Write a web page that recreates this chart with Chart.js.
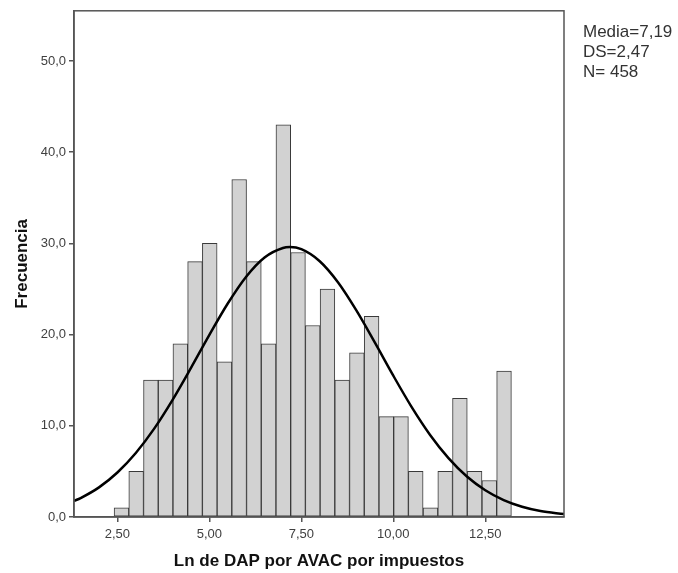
<!DOCTYPE html>
<html>
<head>
<meta charset="utf-8">
<script src="https://cdn.jsdelivr.net/npm/chart.js@4/dist/chart.umd.min.js"></script>
<style>
html,body{margin:0;padding:0;background:#fff;}
canvas{display:block;}
</style>
</head>
<body>
<canvas id="c" width="678" height="573"></canvas>
<script>
// Histogram bins (bin centres, width 0.4) and counts
const binCenters = [2.61, 3.01, 3.41, 3.81, 4.21, 4.61, 5.01, 5.41, 5.81, 6.21, 6.61, 7.01, 7.41, 7.81, 8.21, 8.61, 9.01, 9.41, 9.81, 10.21, 10.61, 11.01, 11.41, 11.81, 12.21, 12.61, 13.01];
const counts = [1, 5, 15, 15, 19, 28, 30, 17, 37, 28, 19, 43, 29, 21, 25, 15, 18, 22, 11, 11, 5, 1, 5, 13, 5, 4, 16];

// Normal curve points
const curveX = [1.32, 1.5, 2.0, 2.5, 3.0, 3.5, 4.0, 4.5, 5.0, 5.5, 6.0, 6.5, 7.0, 7.19, 7.5, 8.0, 8.5, 9.0, 9.5, 10.0, 10.5, 11.0, 11.5, 12.0, 12.5, 13.0, 13.5, 14.0, 14.64];
const curveY = [1.76, 2.08, 3.25, 4.88, 7.02, 9.69, 12.85, 16.35, 19.97, 23.41, 26.35, 28.46, 29.50, 29.59, 29.36, 28.04, 25.71, 22.62, 19.11, 15.49, 12.05, 9.00, 6.46, 4.44, 2.94, 1.86, 1.13, 0.66, 0.32];

// Axis ticks
const xTickValues = [2.5, 5, 7.5, 10, 12.5];
const yTickValues = [0, 10, 20, 30, 40, 50];

// Labels
const xTitle = 'Ln de DAP por AVAC por impuestos';
const yTitle = 'Frecuencia';
const statsLines = ['Media=7,19', 'DS=2,47', 'N= 458'];

const barData = binCenters.map((x, i) => ({x: x, y: counts[i]}));
const curveData = curveX.map((x, i) => ({x: x, y: curveY[i]}));

const boxPlugin = {
  id: 'box',
  afterDraw(chart) {
    const {ctx, chartArea: a} = chart;
    ctx.save();
    ctx.strokeStyle = '#555555';
    ctx.lineWidth = 1.5;
    ctx.strokeRect(a.left, a.top, a.right - a.left, a.bottom - a.top);
    ctx.fillStyle = '#333333';
    ctx.font = '17px "Liberation Sans", Arial, sans-serif';
    ctx.textBaseline = 'middle';
    ctx.textAlign = 'left';
    statsLines.forEach((t, i) => ctx.fillText(t, 583, 32 + i * 20));
    ctx.restore();
  }
};

new Chart(document.getElementById('c'), {
  type: 'bar',
  data: {
    datasets: [
      {
        type: 'line',
        data: curveData,
        borderColor: '#000000',
        borderWidth: 2.5,
        pointRadius: 0,
        tension: 0.4,
        cubicInterpolationMode: 'monotone',
        fill: false,
        order: 0
      },
      {
        type: 'bar',
        data: barData,
        backgroundColor: '#d2d2d2',
        borderColor: '#3a3a3a',
        borderWidth: 1,
        borderSkipped: false,
        barPercentage: 1.0,
        categoryPercentage: 1.0,
        order: 1
      }
    ]
  },
  options: {
    responsive: false,
    animation: false,
    layout: {padding: {top: 8, right: 114, left: 0, bottom: 0}},
    plugins: {legend: {display: false}, tooltip: {enabled: false}},
    scales: {
      x: {
        type: 'linear',
        offset: false,
        min: 1.32,
        max: 14.64,
        afterBuildTicks: (s) => { s.ticks = xTickValues.map(v => ({value: v})); },
        afterFit: (s) => { s.height = 56; },
        grid: {display: true, offset: false, drawOnChartArea: false, drawTicks: true, tickLength: 5, color: '#555555', lineWidth: 1.5},
        border: {display: true, color: '#555555', width: 1.5},
        ticks: {
          color: '#404040',
          font: {family: '"Liberation Sans", Arial, sans-serif', size: 13},
          padding: 5,
          maxRotation: 0,
          autoSkip: false,
          callback: (v) => Number(v).toFixed(2).replace('.', ',')
        },
        title: {
          display: true,
          text: xTitle,
          color: '#111111',
          font: {family: '"Liberation Sans", Arial, sans-serif', size: 17, weight: 'bold'},
          padding: {top: 0, bottom: 1}
        }
      },
      y: {
        type: 'linear',
        min: 0,
        max: 55.5,
        afterBuildTicks: (s) => { s.ticks = yTickValues.map(v => ({value: v})); },
        afterFit: (s) => { s.width = 74; },
        grid: {display: true, drawOnChartArea: false, drawTicks: true, tickLength: 5, color: '#555555', lineWidth: 1.5},
        border: {display: true, color: '#555555', width: 1.5},
        ticks: {
          color: '#404040',
          font: {family: '"Liberation Sans", Arial, sans-serif', size: 13},
          padding: 3,
          autoSkip: false,
          callback: (v) => Number(v).toFixed(1).replace('.', ',')
        },
        title: {
          display: true,
          text: yTitle,
          color: '#111111',
          font: {family: '"Liberation Sans", Arial, sans-serif', size: 17, weight: 'bold'},
          padding: {top: 12, bottom: 0}
        }
      }
    }
  },
  plugins: [boxPlugin]
});
</script>
</body>
</html>
